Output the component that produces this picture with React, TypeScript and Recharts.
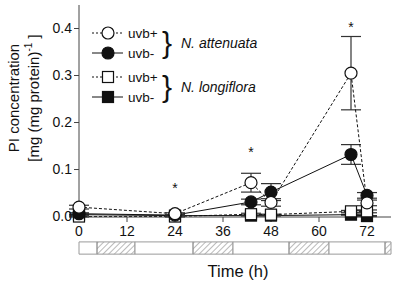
import {
  ComposedChart,
  ErrorBar,
  Label,
  Legend,
  Line,
  ReferenceArea,
  Scatter,
  XAxis,
  YAxis,
} from "recharts";

// sampling times (h) and PI concentrations, mg (mg protein)^-1
const hours = [0, 24, 43, 48, 68, 72];
const attUvbPlus = [0.02, 0.006, 0.072, 0.03, 0.305, 0.029];
const attUvbPlusErr = [0.004, 0.002, 0.02, 0.008, 0.078, 0.006];
const attUvbMinus = [0.006, 0.003, 0.031, 0.052, 0.132, 0.045];
const attUvbMinusErr = [0.002, 0.001, 0.006, 0.018, 0.021, 0.006];
const lonUvbPlus = [0.0, 0.0, 0.005, 0.004, 0.011, 0.011];
const lonUvbPlusErr = [0.001, 0.001, 0.002, 0.001, 0.002, 0.003];
const lonUvbMinus = [0.004, 0.002, 0.002, 0.002, 0.004, 0.001];
const lonUvbMinusErr = [0.001, 0.001, 0.001, 0.001, 0.001, 0.001];

// significance marks
const starHours = [24, 43, 68];
const starLevels = [0.067, 0.143, 0.41];

const timeTicks = [0, 12, 24, 36, 48, 60, 72];
const concTicks = [0, 0.1, 0.2, 0.3, 0.4];

// light / dark phases under the axis (h)
const phaseStart = [0, 4.5, 14, 28.5, 38.5, 52.5, 62.5, 76.5];
const phaseEnd = [4.5, 14, 28.5, 38.5, 52.5, 62.5, 76.5, 78];
const phaseDark = [false, true, false, true, false, true, false, true];

const rows = hours.map((hour, i) => ({
  hour,
  attPlus: attUvbPlus[i],
  attPlusErr: attUvbPlusErr[i],
  attMinus: attUvbMinus[i],
  attMinusErr: attUvbMinusErr[i],
  lonPlus: lonUvbPlus[i],
  lonPlusErr: lonUvbPlusErr[i],
  lonMinus: lonUvbMinus[i],
  lonMinusErr: lonUvbMinusErr[i],
}));
const stars = starHours.map((hour, i) => ({ hour, level: starLevels[i] }));

const FONT = '"Liberation Sans", Arial, sans-serif';
const INK = "#111";

type Shape = "circle" | "square";
const SERIES: { key: string; shape: Shape; filled: boolean; dashed: boolean; label: string }[] = [
  { key: "attPlus", shape: "circle", filled: false, dashed: true, label: "uvb+" },
  { key: "attMinus", shape: "circle", filled: true, dashed: false, label: "uvb-" },
  { key: "lonPlus", shape: "square", filled: false, dashed: true, label: "uvb+" },
  { key: "lonMinus", shape: "square", filled: true, dashed: false, label: "uvb-" },
];
const GROUPS = ["N. attenuata", "N. longiflora"];

function Marker({ cx, cy, shape, filled }: { cx: number; cy: number; shape: Shape; filled: boolean }) {
  const fill = filled ? INK : "#fff";
  if (shape === "circle")
    return <circle cx={cx} cy={cy} r={6} fill={fill} stroke={INK} strokeWidth={1.2} strokeDasharray="none" />;
  return (
    <rect x={cx - 5.5} y={cy - 5.5} width={11} height={11} fill={fill} stroke={INK} strokeWidth={1.2} strokeDasharray="none" />
  );
}

function LegendBox() {
  const rowY = SERIES.map((_, i) => 33 + i * 20 + (i >= 2 ? 4 : 0));
  return (
    <svg width={300} height={110} style={{ fontFamily: FONT, display: "block" }}>
      {SERIES.map((s, i) => (
        <g key={s.key}>
          <line x1={92} x2={123} y1={rowY[i]} y2={rowY[i]} stroke={INK} strokeWidth={1} strokeDasharray={s.dashed ? "2 2" : undefined} />
          <Marker cx={108} cy={rowY[i]} shape={s.shape} filled={s.filled} />
          <text x={128} y={rowY[i]} dominantBaseline="central" fontSize={13.5} fill={INK}>
            {s.label}
          </text>
        </g>
      ))}
      {GROUPS.map((g, i) => {
        const cy = (rowY[i * 2] + rowY[i * 2 + 1]) / 2;
        return (
          <g key={g}>
            <text x={167} y={cy + 10} textAnchor="middle" fontSize={30} fill={INK}>
              {"}"}
            </text>
            <text x={181} y={cy} dominantBaseline="central" fontSize={14} fontStyle="italic" fill={INK}>
              {g}
            </text>
          </g>
        );
      })}
    </svg>
  );
}

function YTitle() {
  const cy = 98;
  const x1 = 13;
  const x2 = 33;
  return (
    <g>
      <text
        x={x1}
        y={cy}
        textAnchor="middle"
        dominantBaseline="central"
        transform={`rotate(-90, ${x1}, ${cy})`}
        fontFamily={FONT}
        fontSize={15}
        fill={INK}
      >
        PI concentration
      </text>
      <text
        x={x2}
        y={cy}
        textAnchor="middle"
        dominantBaseline="central"
        transform={`rotate(-90, ${x2}, ${cy})`}
        fontFamily={FONT}
        fontSize={15}
        fill={INK}
      >
        [mg (mg protein)
        <tspan fontSize={10} dy={-5}>-1</tspan>
        <tspan fontSize={15} dy={5}> ]</tspan>
      </text>
    </g>
  );
}

function XTitle() {
  return (
    <text x={238} y={277} textAnchor="middle" fontFamily={FONT} fontSize={16.5} fontWeight="normal" fill={INK}>
      Time (h)
    </text>
  );
}

function Star({ cx, cy }: any) {
  return (
    <text x={cx} y={cy + 8} textAnchor="middle" fontFamily={FONT} fontSize={14} fill={INK}>
      *
    </text>
  );
}

const tickStyle = { fontSize: 14, fill: INK, fontFamily: FONT };
const axisColor = "#444";

export default function App() {
  const drawOrder = [...SERIES].reverse();
  return (
    <div style={{ position: "absolute", left: 0, top: 0, background: "#fff" }}>
      <svg width={0} height={0} style={{ position: "absolute" }}>
        <defs>
          <pattern id="hatch" width={4} height={4} patternUnits="userSpaceOnUse" patternTransform="rotate(45)">
            <line x1={0} y1={0} x2={0} y2={4} stroke="#666" strokeWidth={0.9} />
          </pattern>
        </defs>
      </svg>
      <ComposedChart width={400} height={284} data={rows} margin={{ top: 5, right: 9, left: 0, bottom: 37 }}>
        <XAxis
          dataKey="hour"
          type="number"
          domain={[0, 78]}
          ticks={timeTicks}
          height={30}
          tickSize={5}
          tickMargin={4}
          tick={tickStyle}
          stroke={axisColor}
          interval={0}
        >
          <Label content={XTitle} />
        </XAxis>
        <XAxis xAxisId="top" orientation="top" type="number" domain={[0, 78]} height={0} tick={false} tickLine={false} stroke={axisColor} />
        <YAxis
          type="number"
          domain={[0, 0.45]}
          ticks={concTicks}
          width={79}
          tickSize={5}
          tickMargin={2}
          tick={tickStyle}
          stroke={axisColor}
          tickFormatter={(v: number) => v.toFixed(1)}
          interval={0}
        >
          <Label content={YTitle} />
        </YAxis>
        <YAxis yAxisId="right" orientation="right" type="number" domain={[0, 0.45]} width={0} tick={false} tickLine={false} stroke={axisColor} />
        {phaseStart.map((x1, i) => (
          <ReferenceArea
            key={`phase-${i}`}
            x1={x1}
            x2={phaseEnd[i]}
            y1={-0.08}
            y2={-0.054}
            ifOverflow="visible"
            fill={phaseDark[i] ? "url(#hatch)" : "#fff"}
            fillOpacity={1}
            stroke="#9a9a9a"
            strokeWidth={1}
          />
        ))}
        {drawOrder.map((s) => (
          <Line
            key={s.key}
            dataKey={s.key}
            stroke={INK}
            strokeWidth={1}
            strokeDasharray={s.dashed ? "3 2" : undefined}
            isAnimationActive={false}
            legendType="none"
            dot={(p: any) => <Marker key={`${s.key}-${p.index}`} cx={p.cx} cy={p.cy} shape={s.shape} filled={s.filled} />}
            activeDot={false}
          >
            <ErrorBar dataKey={`${s.key}Err`} direction="y" width={10} stroke="#333" strokeWidth={1.2} />
          </Line>
        ))}
        <Scatter data={stars} dataKey="level" fill={INK} shape={Star} isAnimationActive={false} legendType="none" />
        <Legend
          layout="horizontal"
          verticalAlign="middle"
          align="center"
          wrapperStyle={{ position: "absolute", left: 0, top: 0, width: 300, height: 110 }}
          content={LegendBox}
        />
      </ComposedChart>
    </div>
  );
}
